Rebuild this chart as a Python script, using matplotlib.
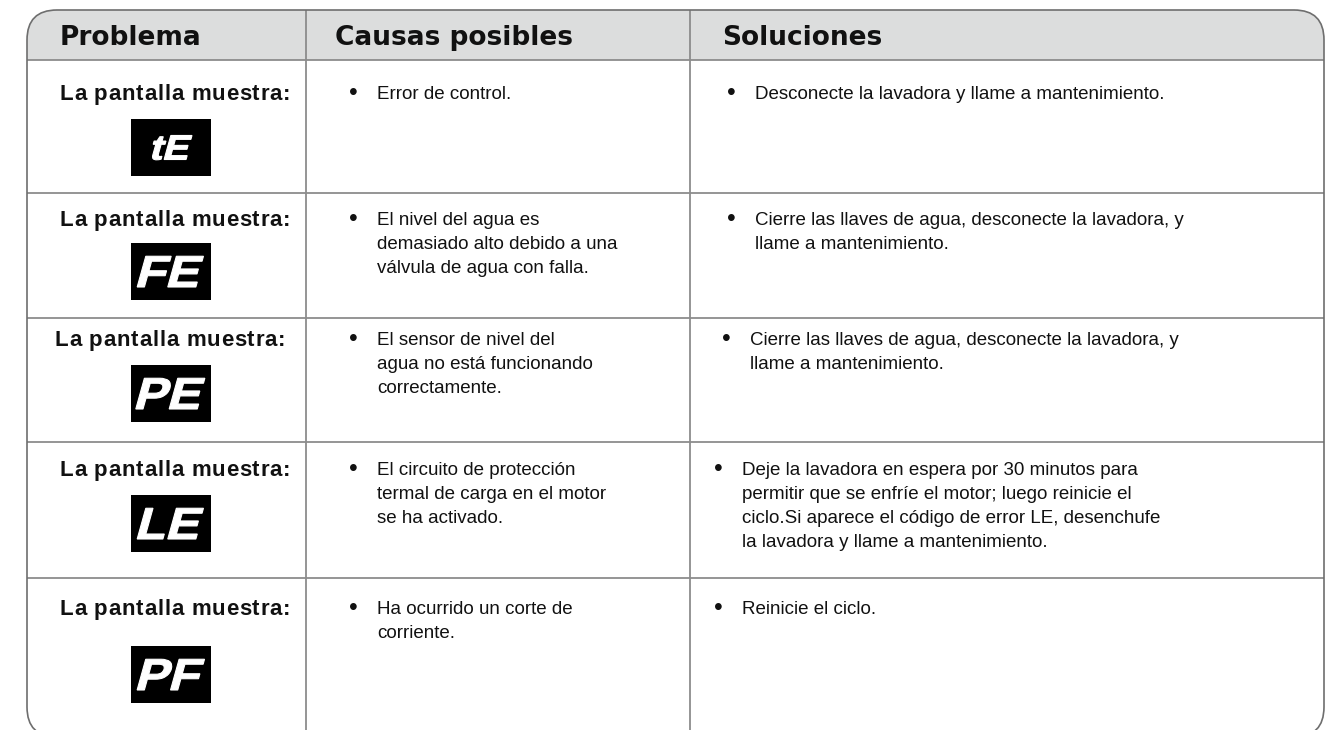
import matplotlib.pyplot as plt
from matplotlib.patches import FancyBboxPatch, Rectangle, PathPatch
from matplotlib.textpath import TextPath
from matplotlib.transforms import Affine2D
from matplotlib.font_manager import FontProperties

# Table content
headers = ["Problema", "Causas posibles", "Soluciones"]
label = "La pantalla muestra:"
codes = ["tE", "FE", "PE", "LE", "PF"]
causes = [
    ["Error de control."],
    ["El nivel del agua es", "demasiado alto debido a una", "válvula de agua con falla."],
    ["El sensor de nivel del", "agua no está funcionando", "correctamente."],
    ["El circuito de protección", "termal de carga en el motor", "se ha activado."],
    ["Ha ocurrido un corte de", "corriente."],
]
solutions = [
    ["Desconecte la lavadora y llame a mantenimiento."],
    ["Cierre las llaves de agua, desconecte la lavadora, y", "llame a mantenimiento."],
    ["Cierre las llaves de agua, desconecte la lavadora, y", "llame a mantenimiento."],
    ["Deje la lavadora en espera por 30 minutos para",
     "permitir que se enfríe el motor; luego reinicie el",
     "ciclo.Si aparece el código de error LE, desenchufe",
     "la lavadora y llame a mantenimiento."],
    ["Reinicie el ciclo."],
]

# Layout in pixels measured from the top edge
W, H = 1335, 730
left, right, top, bottom = 27, 1324, 10, 737
header_bottom = 60
row_lines = [193, 318, 442, 578]
col_lines = [306, 690]
header_x = [60, 335, 722]
label_x = [175, 175, 170, 175, 175]
label_y = [92, 218, 338, 468, 607]
icon_y = [147, 271, 393, 523, 674]
icon_x, icon_w, icon_h = 171, 80, 57
code_cap = [25, 32, 32, 32, 32]
cause_x = [377, 377, 377, 377, 377]
sol_x = [755, 755, 750, 742, 742]
line_gap = 24

body_font = ["Liberation Sans", "DejaVu Sans"]
body_size = 13.5
body_cap = body_size / 72 * 100 * 0.716
edge = "#6e6e6e"
grid = "#8c8c8c"
ink = "#111111"


def fy(y):
    return H - y


fig = plt.figure(figsize=(W / 100, H / 100), dpi=100)
ax = fig.add_axes([0, 0, 1, 1])
ax.set_xlim(0, W)
ax.set_ylim(0, H)
ax.axis("off")
renderer = fig.canvas.get_renderer()

box = FancyBboxPatch((left, fy(bottom)), right - left, bottom - top,
                     boxstyle="round,pad=0,rounding_size=30",
                     facecolor="white", edgecolor="none", zorder=1)
ax.add_patch(box)
head = Rectangle((left, fy(header_bottom)), right - left, header_bottom - top,
                 facecolor="#dcdddd", edgecolor="none", zorder=2)
ax.add_patch(head)
head.set_clip_path(box)

for y in [header_bottom] + row_lines:
    ax.plot([left, right], [fy(y), fy(y)], color=grid, lw=1.3, zorder=3,
            solid_capstyle="butt")
for x in col_lines:
    ln, = ax.plot([x, x], [fy(top), fy(bottom)], color=grid, lw=1.3, zorder=3)
    ln.set_clip_path(box)

outline = FancyBboxPatch((left, fy(bottom)), right - left, bottom - top,
                         boxstyle="round,pad=0,rounding_size=30",
                         facecolor="none", edgecolor=edge, lw=1.2, zorder=4)
ax.add_patch(outline)

# header titles
head_cap = 19 / 72 * 100 * 0.729
for x, t in zip(header_x, headers):
    ax.text(x, fy((top + header_bottom) / 2 + head_cap / 2), t, family="DejaVu Sans",
            weight="bold", fontsize=19, color=ink, va="baseline", ha="left", zorder=5)


def tracked(xc, yb, s, size, track, prop_kw):
    """Draw s centred on xc with a little extra spacing between letters."""
    fp = FontProperties(size=size, **prop_kw)
    widths = [renderer.get_text_width_height_descent(c, fp, ismath=False)[0] for c in s]
    total = sum(widths) + track * (len(s) - 1)
    x = xc - total / 2
    for c, w in zip(s, widths):
        ax.text(x, yb, c, fontproperties=fp, ha="left", va="baseline", color=ink, zorder=5)
        x += w + track


code_font = FontProperties(family="Liberation Sans", weight="bold")


def code_icon(xc, yc, s, cap):
    ax.add_patch(Rectangle((xc - icon_w / 2, yc - icon_h / 2), icon_w, icon_h,
                           facecolor="black", edgecolor="none", zorder=5))
    tp = TextPath((0, 0), s, size=1, prop=code_font)
    ext = tp.get_extents()
    em = cap / 0.716
    tr = (Affine2D().translate(-(ext.x0 + ext.x1) / 2, -0.716 / 2)
          .skew_deg(14, 0).scale(em * 1.12, em).translate(xc, yc))
    ax.add_patch(PathPatch(tr.transform_path(tp), facecolor="white", edgecolor="white",
                           lw=0.8, zorder=6))


label_size = 16
label_cap = label_size / 72 * 100 * 0.716
for i in range(len(codes)):
    # problem column
    tracked(label_x[i], fy(label_y[i] + label_cap / 2), label, label_size, 0.8,
            dict(family=body_font, weight="bold"))
    code_icon(icon_x, fy(icon_y[i]), codes[i], code_cap[i])

    # causes and solutions
    for lines, x0 in ((causes[i], cause_x[i]), (solutions[i], sol_x[i])):
        ax.text(x0 - 28, fy(label_y[i] + body_cap / 2 + 1.5), "•", family=body_font,
                fontsize=18, ha="left", va="baseline", color=ink, zorder=5)
        for k, s in enumerate(lines):
            ax.text(x0, fy(label_y[i] + k * line_gap + body_cap / 2), s, family=body_font,
                    fontsize=body_size, ha="left", va="baseline", color=ink, zorder=5)

fig.savefig("out.png", dpi=100)
